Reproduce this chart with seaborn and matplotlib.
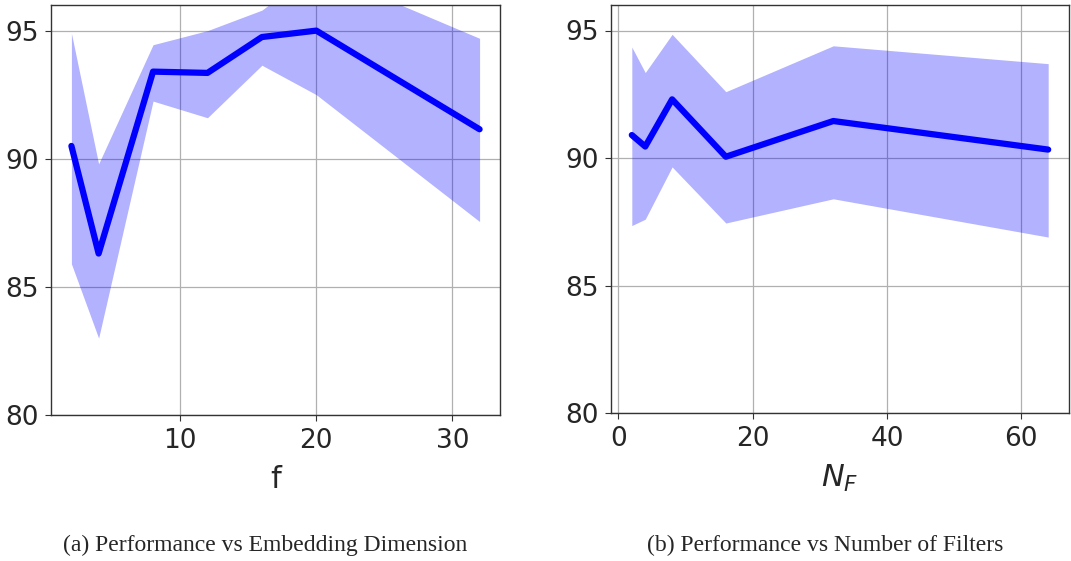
import matplotlib
matplotlib.use("Agg")
import matplotlib.pyplot as plt
import seaborn as sns
import pandas as pd

# Embedding dimension sweep
f_vals = [2, 4, 8, 12, 16, 20, 32]
f_mean = [90.5, 86.3, 93.4, 93.35, 94.75, 95.0, 91.15]
f_upper = [94.9, 89.8, 94.45, 95.0, 95.8, 97.4, 94.7]
f_lower = [85.9, 83.0, 92.25, 91.6, 93.65, 92.5, 87.55]

# Number-of-filters sweep
nf_vals = [2, 4, 8, 16, 32, 64]
nf_mean = [90.9, 90.45, 92.3, 90.05, 91.45, 90.33]
nf_upper = [94.35, 93.35, 94.85, 92.6, 94.4, 93.7]
nf_lower = [87.35, 87.6, 89.65, 87.45, 88.4, 86.9]

y_ticks = [80, 85, 90, 95]
captions = ["(a) Performance vs Embedding Dimension",
            "(b) Performance vs Number of Filters"]
xlabels = ["f", "$N_F$"]

sns.set_style("ticks")
plt.rcParams["font.family"] = ["DejaVu Sans"]

fig = plt.figure(figsize=(10.71, 5.61), dpi=100)
ax1 = fig.add_axes([51 / 1071, 146 / 561, 449 / 1071, 410 / 561])
ax2 = fig.add_axes([611 / 1071, 148 / 561, 458 / 1071, 408 / 561])

panels = [
    (ax1, f_vals, f_mean, f_upper, f_lower, [10, 20, 30]),
    (ax2, nf_vals, nf_mean, nf_upper, nf_lower, [0, 20, 40, 60]),
]

for i, (ax, xs, mean, up, lo, xt) in enumerate(panels):
    df = pd.DataFrame({"x": xs, "y": mean})
    ax.fill_between(xs, lo, up, color="blue", alpha=0.3, linewidth=0)
    sns.lineplot(data=df, x="x", y="y", ax=ax, color="blue", linewidth=4.5)
    ax.set_ylim(80, 96)
    ax.set_yticks(y_ticks)
    ax.set_xticks(xt)
    ax.grid(True, color="#b0b0b0", linewidth=0.9)
    ax.tick_params(labelsize=19, length=4, color="#333333", pad=5)
    for sp in ax.spines.values():
        sp.set_color("#333333")
        sp.set_linewidth(1.0)
    ax.set_xlabel(xlabels[i], fontsize=22, labelpad=8)
    ax.set_ylabel("")

fig.text(265 / 1071, 1 - 545 / 561, captions[0], ha="center", va="center",
         fontsize=17, family="Liberation Serif")
fig.text(825 / 1071, 1 - 545 / 561, captions[1], ha="center", va="center",
         fontsize=17, family="Liberation Serif")

fig.savefig("out.png", dpi=100)
